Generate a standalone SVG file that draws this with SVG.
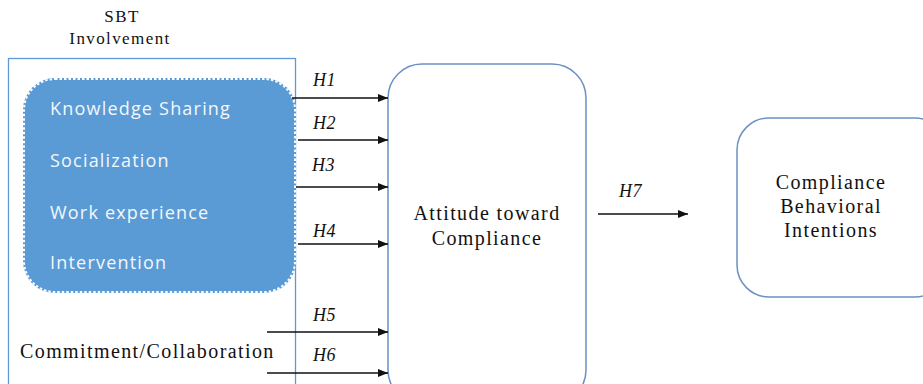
<svg xmlns="http://www.w3.org/2000/svg" width="923" height="384" viewBox="0 0 923 384">
  <style>
    .serif { font-family: "Liberation Serif", "Times New Roman", serif; fill: #111; }
    .big { font-size: 20px; letter-spacing: 1.4px; }
    .small { font-size: 17px; letter-spacing: 1.4px; }
    .hyp { font-family: "Liberation Serif", "Times New Roman", serif; font-style: italic; font-size: 18px; fill: #111; letter-spacing: 0.5px; }
    .item { font-family: "Open Sans", "Noto Sans", sans-serif; font-size: 18px; letter-spacing: 1.2px; fill: #f4f7fb; }
    .frame { fill: none; stroke: #5b9bd5; stroke-width: 1.3; }
    .box { fill: #fff; stroke: #6a91c2; stroke-width: 1.5; }
    .link { stroke: #111; stroke-width: 1.3; fill: none; marker-end: url(#arrow); }
  </style>
  <defs>
    <marker id="arrow" viewBox="0 0 10 10" refX="10" refY="5" markerWidth="10" markerHeight="10" markerUnits="userSpaceOnUse" orient="auto">
      <path d="M0,1 L10,5 L0,9 Z" fill="#111"/>
    </marker>
  </defs>

  <rect width="923" height="384" fill="#fff"/>

  <!-- SBT involvement group -->
  <g id="sbt-involvement">
    <text class="serif small" x="122" y="22" text-anchor="middle">SBT</text>
    <text class="serif small" x="120" y="44" text-anchor="middle">Involvement</text>
    <rect class="frame" x="8.5" y="58.5" width="287" height="340"/>
  </g>

  <!-- Blue factors block -->
  <g id="sbt-factors">
    <rect x="23" y="78" width="273" height="215" rx="32" ry="32" fill="#5b9bd5"/>
    <rect x="24" y="79" width="271" height="213" rx="31" ry="31" fill="none" stroke="#ffffff" stroke-width="2" stroke-dasharray="2.5 2"/>
    <text class="item" x="50" y="115">Knowledge Sharing</text>
    <text class="item" x="50" y="167">Socialization</text>
    <text class="item" x="50" y="219">Work experience</text>
    <text class="item" x="50" y="269">Intervention</text>
  </g>

  <g id="commitment">
    <text class="serif big" x="20" y="358">Commitment/Collaboration</text>
  </g>

  <!-- Attitude node -->
  <g id="attitude">
    <rect class="box" x="388" y="64" width="198" height="340" rx="34" ry="34"/>
    <text class="serif big" x="487" y="220" text-anchor="middle">Attitude toward</text>
    <text class="serif big" x="487" y="245" text-anchor="middle">Compliance</text>
  </g>

  <!-- Intentions node -->
  <g id="intentions">
    <rect class="box" x="737" y="118" width="210" height="179" rx="32" ry="32"/>
    <text class="serif big" x="831" y="189" text-anchor="middle">Compliance</text>
    <text class="serif big" x="831" y="213" text-anchor="middle">Behavioral</text>
    <text class="serif big" x="831" y="237" text-anchor="middle">Intentions</text>
  </g>

  <!-- Connectors -->
  <g id="connectors">
    <line class="link" x1="292" y1="98" x2="388" y2="98"/>
    <line class="link" x1="298" y1="140" x2="388" y2="140"/>
    <line class="link" x1="296" y1="187" x2="388" y2="187"/>
    <line class="link" x1="298" y1="244" x2="388" y2="244"/>
    <line class="link" x1="267" y1="332" x2="388" y2="332"/>
    <line class="link" x1="267" y1="373" x2="388" y2="373"/>
    <line class="link" x1="598" y1="214" x2="688" y2="214"/>
    <text class="hyp" x="313" y="86">H1</text>
    <text class="hyp" x="313" y="129">H2</text>
    <text class="hyp" x="312" y="171">H3</text>
    <text class="hyp" x="313" y="237">H4</text>
    <text class="hyp" x="313" y="321">H5</text>
    <text class="hyp" x="313" y="361">H6</text>
    <text class="hyp" x="619" y="197">H7</text>
  </g>
</svg>
